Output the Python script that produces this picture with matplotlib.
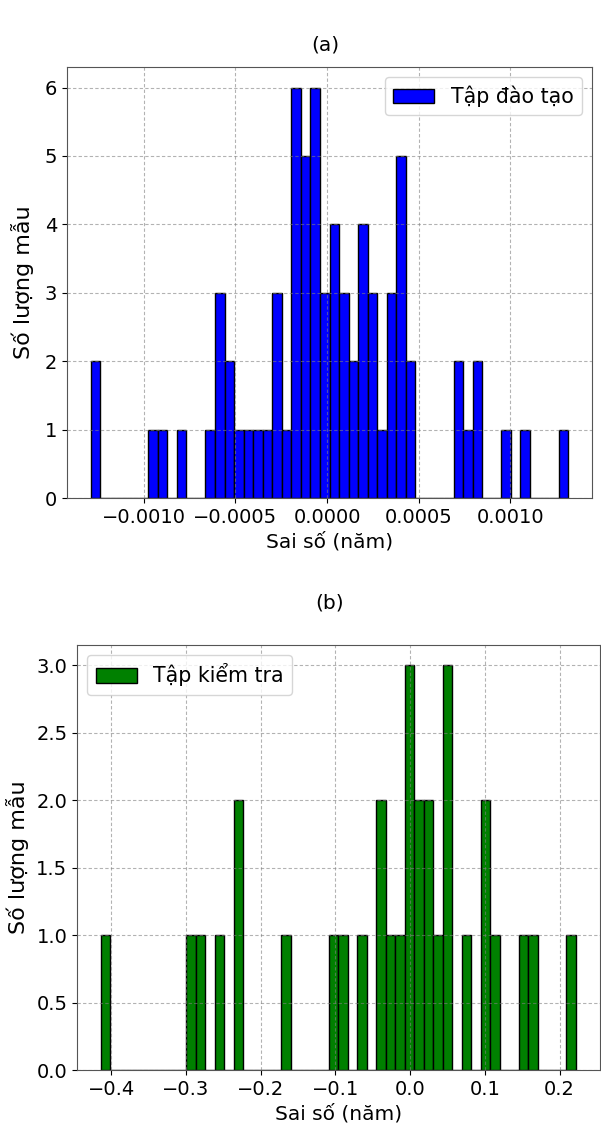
import numpy as np
import matplotlib
matplotlib.use("Agg")
import matplotlib.pyplot as plt

# (a) training set: 50 bins between min and max error
train_lo = -0.001288
train_hi = 0.001315
train_counts = [2, 0, 0, 0, 0, 0, 1, 1, 0, 1,
                0, 0, 1, 3, 2, 1, 1, 1, 1, 3,
                1, 6, 5, 6, 3, 4, 3, 2, 4, 3,
                1, 3, 5, 2, 0, 0, 0, 0, 2, 1,
                2, 0, 0, 1, 0, 1, 0, 0, 0, 1]

# (b) test set
test_lo = -0.4141
test_hi = 0.2215
test_counts = [1, 0, 0, 0, 0, 0, 0, 0, 0, 1,
               1, 0, 1, 0, 2, 0, 0, 0, 0, 1,
               0, 0, 0, 0, 1, 1, 0, 1, 0, 2,
               1, 1, 3, 2, 2, 1, 3, 0, 1, 0,
               2, 1, 0, 0, 1, 1, 0, 0, 0, 1]

plt.rcParams['font.family'] = ['DejaVu Sans']
plt.rcParams['font.size'] = 14

fig = plt.figure(figsize=(6.01, 11.29), dpi=100)
W, H = 601.0, 1129.0


def px_axes(l, t, r, b):
    return fig.add_axes([l / W, 1 - b / H, (r - l) / W, (b - t) / H])


def draw(ax, lo, hi, counts, color, label, loc, ypad):
    edges = np.linspace(lo, hi, len(counts) + 1)
    centers = (edges[:-1] + edges[1:]) / 2
    ax.hist(centers, bins=edges, weights=counts, color=color,
            edgecolor='black', linewidth=1, label=label)
    ax.grid(True, linestyle=(0, (3, 2)), color='gray', alpha=0.6, linewidth=0.8)
    ax.set_xlabel("Sai số (năm)", fontsize=14.5)
    ax.set_ylabel("Số lượng mẫu", fontsize=16, labelpad=ypad)
    ax.tick_params(labelsize=14)
    ax.legend(loc=loc, fontsize=14.8)
    for s in ax.spines.values():
        s.set_color('#555555')


ax1 = px_axes(67, 67, 592, 498)
draw(ax1, train_lo, train_hi, train_counts, 'blue', 'Tập đào tạo', 'upper right', 8)
ax1.set_xticks([-0.001, -0.0005, 0.0, 0.0005, 0.001])
ax1.set_xticklabels(['−0.0010', '−0.0005', '0.0000', '0.0005', '0.0010'])

ax2 = px_axes(77, 645, 599.5, 1070)
draw(ax2, test_lo, test_hi, test_counts, 'green', 'Tập kiểm tra', 'upper left', 5)

fig.text(325 / W, 1 - 45 / H, "(a)", ha='center', va='center', fontsize=14.5)
fig.text(330 / W, 1 - 603 / H, "(b)", ha='center', va='center', fontsize=14.5)

fig.savefig("out.png", dpi=100)
